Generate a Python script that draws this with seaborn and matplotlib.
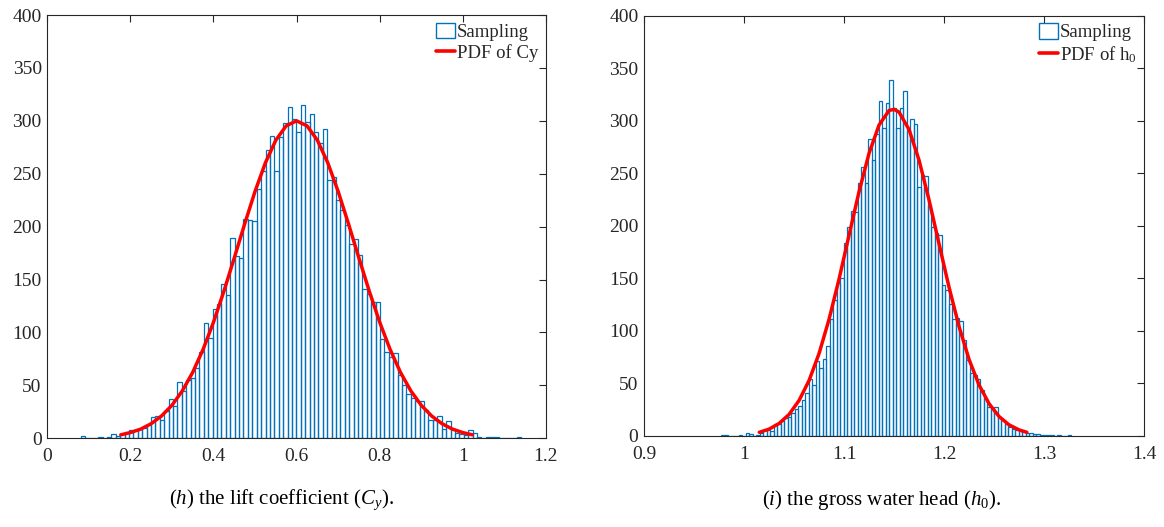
import matplotlib
matplotlib.use("Agg")
import matplotlib.pyplot as plt
from matplotlib.lines import Line2D
from matplotlib.patches import Patch
import numpy as np
import pandas as pd
import seaborn as sns

# ===== Data =====
# (h) lift coefficient Cy : 100 bins
cy_bin_start = 0.080
cy_bin_width = 0.0106
cy_counts = [2, 0, 0, 0, 1, 0, 1, 4, 2, 4,
             6, 8, 8, 9, 10, 13, 20, 21, 17, 26,
             37, 31, 53, 45, 55, 57, 66, 82, 109, 95,
             122, 127, 146, 135, 189, 172, 170, 207, 206, 205,
             236, 253, 272, 286, 253, 285, 298, 313, 302, 289,
             315, 299, 306, 289, 279, 292, 244, 247, 225, 216,
             202, 184, 188, 173, 141, 136, 129, 129, 94, 82,
             77, 81, 60, 50, 42, 38, 35, 35, 27, 17,
             17, 21, 9, 16, 9, 5, 4, 3, 8, 5,
             1, 0, 1, 1, 1, 0, 0, 0, 0, 1]
cy_pdf_x = [0.177, 0.2, 0.225, 0.25, 0.275, 0.3, 0.325, 0.35, 0.375, 0.4,
            0.425, 0.45, 0.475, 0.5, 0.525, 0.55, 0.575, 0.6, 0.625, 0.65,
            0.675, 0.7, 0.725, 0.75, 0.775, 0.8, 0.825, 0.85, 0.875, 0.9,
            0.925, 0.95, 0.975, 1.0, 1.023]
cy_pdf_y = [3.3, 5.4, 8.7, 13.8, 21.1, 31.2, 44.8, 62.3, 84.0, 109.7,
            138.9, 170.4, 202.5, 233.3, 260.4, 281.7, 295.3, 300.0, 295.3, 281.7,
            260.4, 233.3, 202.5, 170.4, 138.9, 109.7, 84.0, 62.3, 44.8, 31.2,
            21.1, 13.8, 8.7, 5.4, 3.3]

# (i) gross water head h0 : 100 bins
h0_bin_start = 0.977
h0_bin_width = 0.0035
h0_counts = [1, 1, 0, 0, 0, 1, 0, 3, 2, 0,
             1, 3, 6, 6, 5, 11, 11, 14, 17, 18,
             22, 26, 29, 34, 41, 54, 49, 71, 65, 73,
             86, 111, 129, 146, 150, 184, 199, 214, 213, 241,
             256, 241, 283, 263, 287, 319, 293, 317, 339, 312,
             293, 312, 328, 292, 302, 297, 237, 248, 247, 220,
             199, 193, 191, 144, 139, 126, 111, 112, 109, 91,
             72, 60, 58, 54, 44, 36, 28, 27, 28, 18,
             15, 11, 9, 7, 6, 5, 4, 3, 3, 2,
             2, 1, 1, 1, 1, 0, 1, 0, 0, 1]
h0_pdf_x = [1.0152, 1.025, 1.035, 1.045, 1.055, 1.065, 1.075, 1.085, 1.095, 1.105,
            1.115, 1.125, 1.135, 1.145, 1.15, 1.155, 1.165, 1.175, 1.185, 1.195,
            1.205, 1.215, 1.225, 1.235, 1.245, 1.255, 1.265, 1.275, 1.2828]
h0_pdf_y = [3.5, 6.5, 11.9, 20.5, 33.8, 52.8, 78.5, 111.1, 149.4, 191.2,
            232.6, 269.1, 296.0, 309.8, 310.9, 308.2, 291.6, 262.4, 224.5, 182.7,
            141.4, 104.1, 72.8, 48.5, 30.7, 18.5, 10.6, 5.8, 3.5]

cy_xticks = [0, 0.2, 0.4, 0.6, 0.8, 1.0, 1.2]
cy_xticklabels = ["0", "0.2", "0.4", "0.6", "0.8", "1", "1.2"]
h0_xticks = [0.9, 1.0, 1.1, 1.2, 1.3, 1.4]
h0_xticklabels = ["0.9", "1", "1.1", "1.2", "1.3", "1.4"]
yticks = [0, 50, 100, 150, 200, 250, 300, 350, 400]

BAR_BLUE = "#0072BD"
AX_GREY = "#262626"

# ===== Style =====
sns.set_style("white")
plt.rcParams["font.family"] = ["Liberation Serif", "DejaVu Serif"]
plt.rcParams["mathtext.fontset"] = "custom"
plt.rcParams["mathtext.rm"] = "Liberation Serif"
plt.rcParams["mathtext.it"] = "Liberation Serif:italic"


def draw_panel(ax, start, width, counts, pdf_x, pdf_y, xlim, xticks, xticklabels, pdf_label):
    edges = [round(start + width * i, 6) for i in range(len(counts) + 1)]
    hist_df = pd.DataFrame({"center": np.array(edges[:-1]) + width / 2, "count": counts})
    sns.histplot(data=hist_df, x="center", weights="count", bins=edges, fill=False,
                 color=BAR_BLUE, linewidth=0.9, ax=ax)
    sns.lineplot(x=pdf_x, y=pdf_y, color="red", linewidth=2.5, ax=ax)

    ax.set_xlim(*xlim)
    ax.set_ylim(0, 400)
    ax.set_xticks(xticks)
    ax.set_xticklabels(xticklabels)
    ax.set_yticks(yticks)
    ax.set_xlabel("")
    ax.set_ylabel("")
    ax.tick_params(direction="in", top=True, right=True, length=5, width=0.8,
                   colors=AX_GREY, labelsize=14, pad=4)
    ax.tick_params(axis="x", pad=7)
    for sp in ax.spines.values():
        sp.set_color(AX_GREY)
        sp.set_linewidth(0.8)

    handles = [Patch(facecolor="white", edgecolor=BAR_BLUE, linewidth=1.0),
               Line2D([0], [0], color="red", linewidth=2.6)]
    ax.legend(handles, ["Sampling", pdf_label], loc="upper right", frameon=False,
              fontsize=13.5, handlelength=1.0, handleheight=0.9, handletextpad=0.1,
              labelspacing=0.15, borderaxespad=0.2, borderpad=0.2)


fig = plt.figure(figsize=(11.64, 5.27), dpi=100)
ax1 = fig.add_axes([0.0406, 0.1683, 0.4284, 0.8032])
ax2 = fig.add_axes([0.5533, 0.1727, 0.4296, 0.7975])

draw_panel(ax1, cy_bin_start, cy_bin_width, cy_counts, cy_pdf_x, cy_pdf_y,
           (0, 1.2), cy_xticks, cy_xticklabels, "PDF of Cy")
draw_panel(ax2, h0_bin_start, h0_bin_width, h0_counts, h0_pdf_x, h0_pdf_y,
           (0.9, 1.4), h0_xticks, h0_xticklabels, r"PDF of h$_{\mathrm{0}}$")

fig.text(0.2415, 0.051, r"($\mathit{h}$) the lift coefficient ($\mathit{C_y}$).",
         ha="center", va="center", fontsize=15, color="black")
fig.text(0.757, 0.051, r"($\mathit{i}$) the gross water head ($\mathit{h}_{\mathrm{0}}$).",
         ha="center", va="center", fontsize=15, color="black")

fig.savefig("out.png", dpi=100)
plt.close(fig)
